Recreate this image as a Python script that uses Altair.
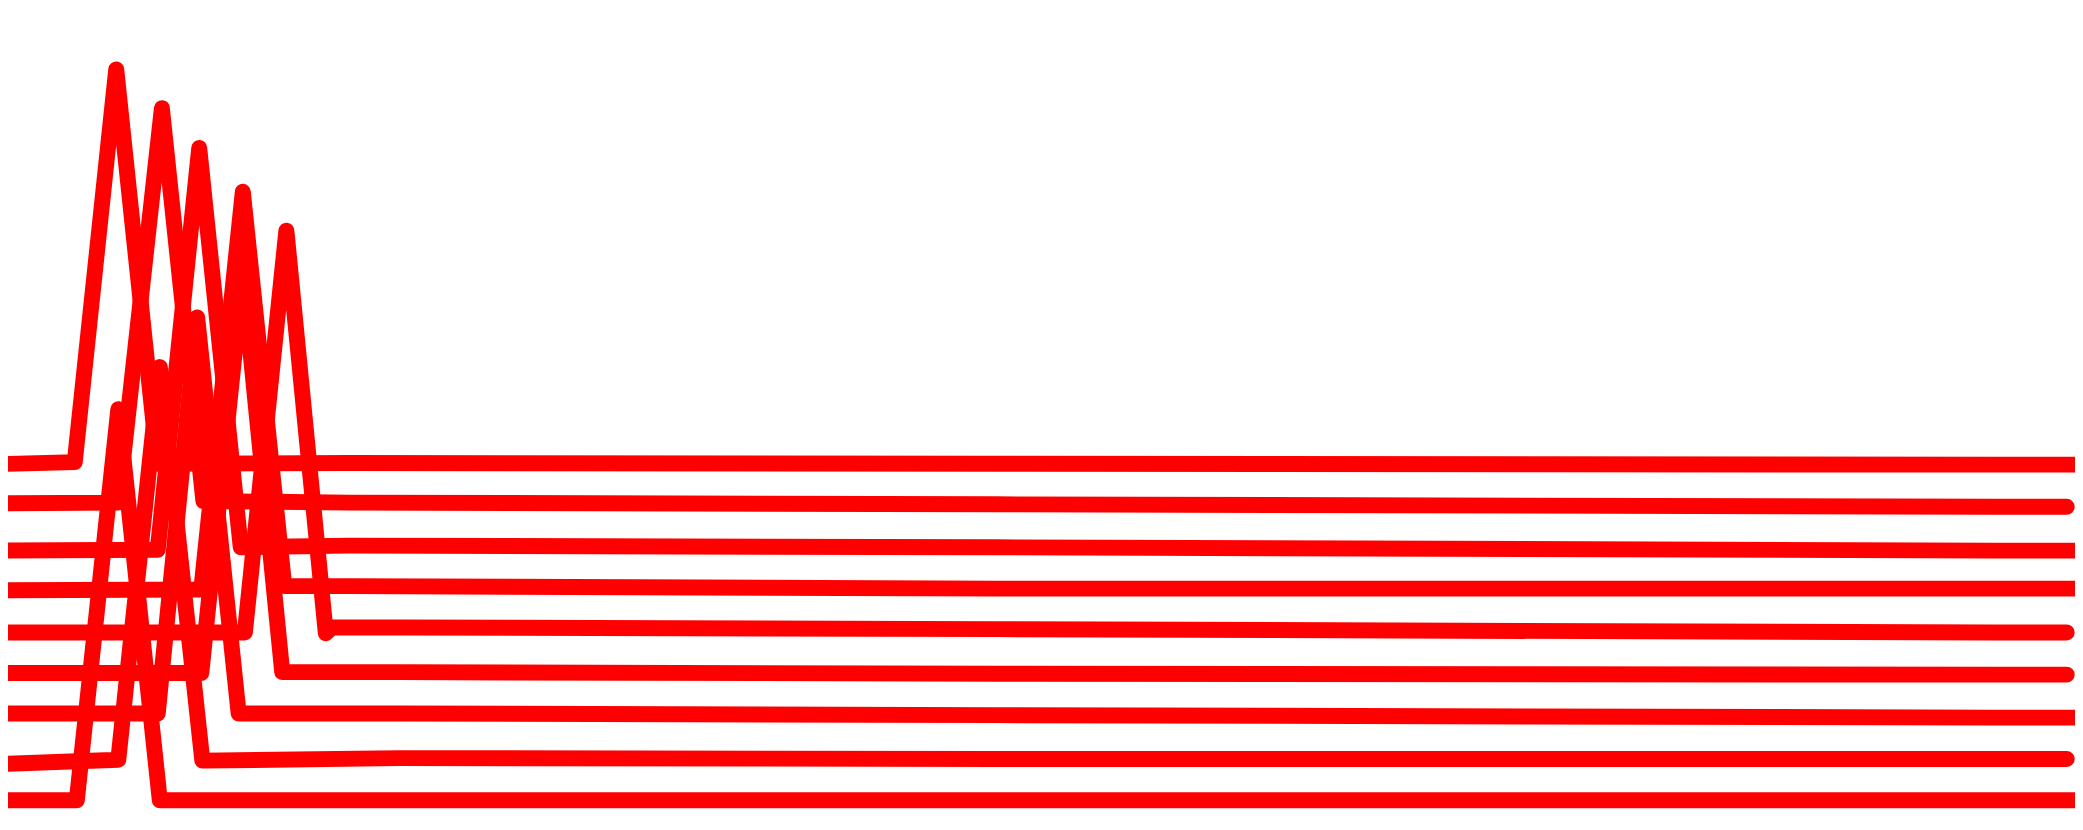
import altair as alt
import pandas as pd

# Nine offset series, each with one sharp spike
s1_x = [-1, 3.6, 5.6, 7.6, 16.8, 48.0, 96.0, 101]
s1_y = [44.0, 44.3, 91.8, 44.1, 44.2, 44.1, 44.0, 44.0]

s2_x = [-1, 5.7, 7.8, 9.8, 16.8, 48.0, 96.0, 99.6]
s2_y = [39.3, 39.4, 87.1, 39.6, 39.4, 39.2, 38.9, 38.9]

s3_x = [-1, 7.6, 9.6, 11.6, 16.8, 48.0, 96.0, 101]
s3_y = [33.6, 33.7, 82.3, 34.0, 34.2, 34.0, 33.6, 33.6]

s4_x = [-1, 9.7, 11.7, 13.7, 16.8, 48.0, 96.0, 101]
s4_y = [28.8, 28.9, 77.0, 29.3, 29.3, 29.0, 29.0, 29.0]

s5_x = [-1, 11.8, 13.8, 15.7, 16.0, 19.2, 48.0, 96.0, 99.6]
s5_y = [23.7, 23.7, 72.3, 23.6, 24.3, 24.3, 24.1, 23.7, 23.7]

s6_x = [-1, 9.7, 11.7, 13.6, 19.2, 48.0, 96.0, 99.6]
s6_y = [18.8, 18.8, 67.0, 18.9, 18.9, 18.7, 18.6, 18.6]

s7_x = [-1, 7.6, 9.5, 11.5, 19.2, 48.0, 96.0, 101]
s7_y = [13.9, 13.9, 61.8, 13.9, 13.9, 13.7, 13.4, 13.4]

s8_x = [-1, 5.7, 7.7, 9.75, 19.2, 48.0, 96.0, 99.6]
s8_y = [7.7, 8.3, 55.8, 8.2, 8.5, 8.4, 8.4, 8.4]

s9_x = [-1, 3.7, 5.7, 7.7, 48.0, 101]
s9_y = [3.4, 3.4, 50.7, 3.4, 3.4, 3.4]

series = [
    ("s1", s1_x, s1_y), ("s2", s2_x, s2_y), ("s3", s3_x, s3_y),
    ("s4", s4_x, s4_y), ("s5", s5_x, s5_y), ("s6", s6_x, s6_y),
    ("s7", s7_x, s7_y), ("s8", s8_x, s8_y), ("s9", s9_x, s9_y),
]

rows = []
for name, xs, ys in series:
    for i, (xv, yv) in enumerate(zip(xs, ys)):
        rows.append({"series": name, "order": i, "x": xv, "y": yv})
df = pd.DataFrame(rows)

chart = (
    alt.Chart(df)
    .mark_line(color="#ff0000", strokeWidth=16, strokeCap="round",
               strokeJoin="round", clip=True)
    .encode(
        x=alt.X("x:Q", scale=alt.Scale(domain=[0.384, 100.0], nice=False, zero=False), axis=None),
        y=alt.Y("y:Q", scale=alt.Scale(domain=[1.93, 99.04], nice=False, zero=False), axis=None),
        detail="series:N",
        order="order:Q",
    )
    .properties(width=2075, height=806, padding=0, background="white")
    .configure_view(stroke=None)
)

chart.save("out.html", embed_options={"renderer": "svg", "actions": False})
